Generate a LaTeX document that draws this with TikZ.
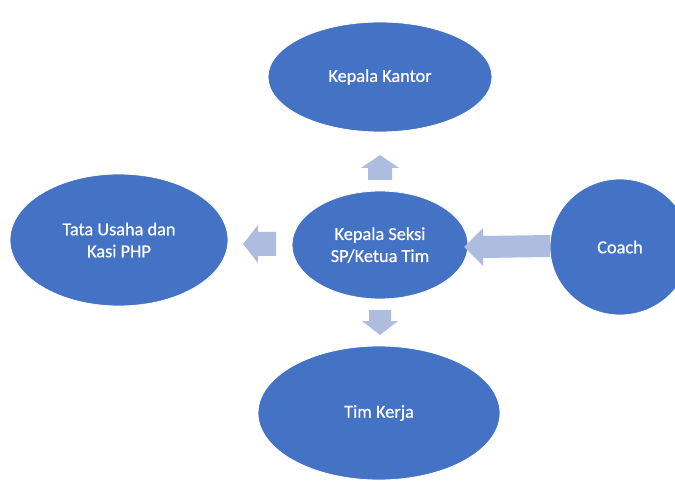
\documentclass[tikz,border=0pt]{standalone}
\usepackage{fontspec}
\usetikzlibrary{shapes.geometric}
\setmainfont{Carlito}[FakeBold=0.6]
\definecolor{blob}{HTML}{4472C4}
\definecolor{arr}{HTML}{AEBCDF}
\begin{document}
\begin{tikzpicture}[x=1pt,y=-1pt,
  blobnode/.style={ellipse, fill=blob, draw=white, line width=0.8pt, text=white,
     font=\fontsize{18.3}{22}\selectfont, align=center, inner sep=0pt},
  blockarrow/.style={fill=arr, draw=none}]
\useasboundingbox (0,0) rectangle (675,481);
\begin{scope}
\clip (0,0) rectangle (675,481);
\node[blobnode, minimum width=224pt, minimum height=110pt] (kk) at (380,77) {Kepala Kantor};
\node[blobnode, minimum width=218pt, minimum height=132pt] (tu) at (119,240) {Tata Usaha dan\\Kasi PHP};
\node[blobnode, minimum width=176pt, minimum height=108pt] (ks) at (380,245) {Kepala Seksi\\SP/Ketua Tim};
\node[blobnode, minimum width=140pt, minimum height=136pt] (co) at (620,247) {Coach};
\node[blobnode, minimum width=242pt, minimum height=134pt] (tk) at (379,413) {Tim Kerja};
\end{scope}
% up arrow
\fill[blockarrow] (368,180) -- (368,168) -- (361,168) -- (380,155) -- (399,168) -- (392,168) -- (392,180) -- cycle;
% left arrow
\fill[blockarrow] (276,232) -- (258,232) -- (258,225) -- (243,244) -- (258,263) -- (258,256) -- (276,256) -- cycle;
% down arrow
\fill[blockarrow] (369,310) -- (369,321) -- (362,321) -- (380,335) -- (398,321) -- (391,321) -- (391,310) -- cycle;
% coach arrow
\fill[blockarrow] (550,235) -- (483,236) -- (483,228) -- (464,247) -- (483,266) -- (483,258) -- (550,257) -- cycle;
\end{tikzpicture}
\end{document}
